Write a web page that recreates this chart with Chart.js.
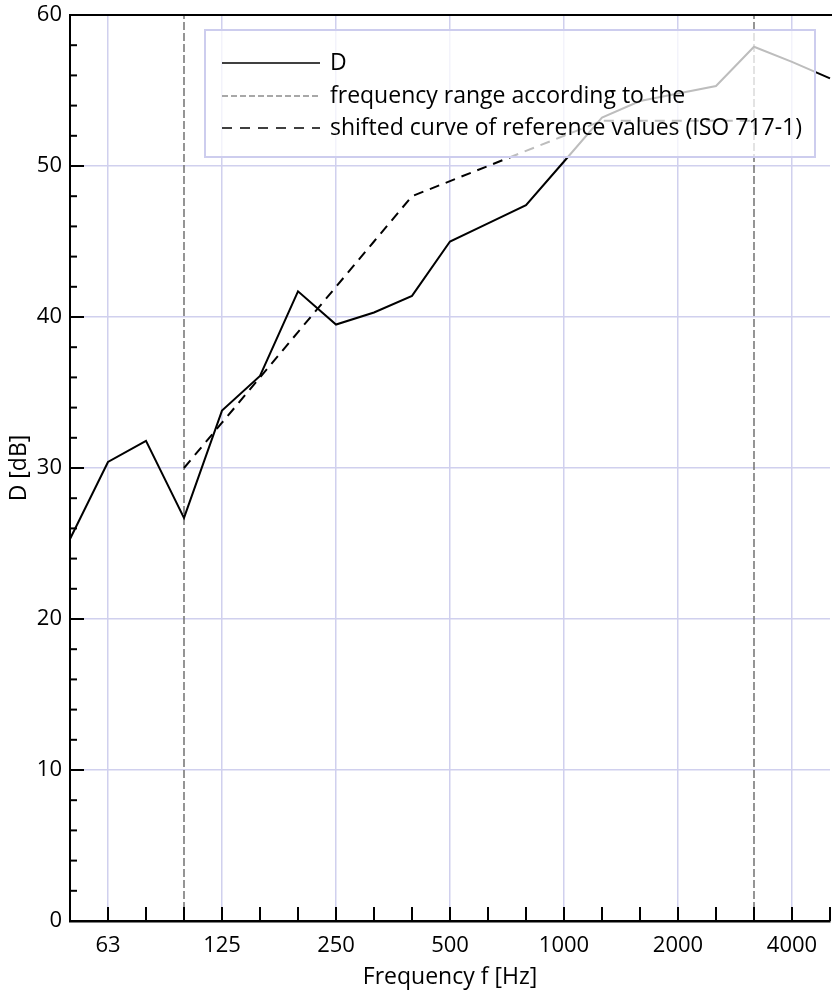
<!DOCTYPE html>
<html><head><meta charset="utf-8">
<script src="https://cdn.jsdelivr.net/npm/chart.js@4/dist/chart.umd.min.js"></script>
<style>html,body{margin:0;padding:0;background:#fff;}#wrap{width:832px;height:993px;position:relative;}</style>
</head><body><div id="wrap"><canvas id="c" width="832" height="993"></canvas></div>
<script>
// ---- data ----
const bands = ['50','63','80','100','125','160','200','250','315','400','500','630','800','1000','1250','1600','2000','2500','3150','4000','5000'];
const majorLabels = ['63','125','250','500','1000','2000','4000'];
const dValues = [25.3,30.4,31.8,26.7,33.8,36.1,41.7,39.5,40.3,41.4,45.0,46.2,47.4,50.3,53.2,54.3,54.8,55.3,57.9,56.9,55.8];
const refValues = [null,null,null,30,33,36,39,42,45,48,49,50,51,52,53,53,53,53,53,null,null];
const rangeLow = '100';
const rangeHigh = '3150';
const yMin = 0, yMax = 60;
const yLabelStep = 10, yMinorStep = 2;
const legendLabels = ['D', 'frequency range according to the', 'shifted curve of reference values (ISO 717-1)'];
const xTitle = 'Frequency f [Hz]';
const yTitle = 'D [dB]';

// ---- styles ----
const FONT = "'Open Sans', 'Noto Sans', sans-serif";
const FS = 22;
const FS_T = 23;
const gridColor = 'rgb(208,208,238)';
const rangeColor = '#7a7a7a';

const decor = {
  id: 'decor',
  afterDatasetsDraw(chart) {
    const {ctx, chartArea: a, scales: {x, y}} = chart;
    const line = (x1, y1, x2, y2) => { ctx.beginPath(); ctx.moveTo(x1, y1); ctx.lineTo(x2, y2); ctx.stroke(); };
    ctx.save();
    ctx.strokeStyle = '#000';
    ctx.lineWidth = 2;
    ctx.setLineDash([]);
    for (let i = 0; i < bands.length; i++) {
      const px = x.getPixelForValue(i);
      line(px, a.bottom, px, a.bottom - 14);
    }
    for (let v = yMin; v <= yMax; v += yMinorStep) {
      const py = y.getPixelForValue(v);
      line(a.left, py, a.left + (v % yLabelStep === 0 ? 14 : 7), py);
    }
    line(a.left, a.top, chart.width, a.top);
    // legend box
    const bx = 205, by = 30, bw = 610, bh = 127;
    ctx.fillStyle = 'rgba(255,255,255,0.74)';
    ctx.fillRect(bx, by, bw, bh);
    ctx.strokeStyle = 'rgb(205,205,238)';
    ctx.lineWidth = 2;
    ctx.strokeRect(bx, by, bw, bh);
    const rows = [63, 96, 128];
    const styles = [
      {c: '#000', w: 1.5, d: []},
      {c: '#8c8c8c', w: 1.3, d: [6, 3]},
      {c: '#000', w: 1.6, d: [10, 8]}
    ];
    ctx.font = FS_T + 'px ' + FONT;
    ctx.textBaseline = 'middle';
    ctx.textAlign = 'left';
    rows.forEach((ry, i) => {
      ctx.strokeStyle = styles[i].c;
      ctx.lineWidth = styles[i].w;
      ctx.setLineDash(styles[i].d);
      line(222, ry, 320, ry);
      ctx.setLineDash([]);
      ctx.fillStyle = '#000';
      ctx.fillText(legendLabels[i], 330, ry);
    });
    ctx.restore();
  }
};

new Chart(document.getElementById('c'), {
  type: 'line',
  data: {
    labels: bands,
    datasets: [
      {label: legendLabels[0], data: dValues, borderColor: '#000', borderWidth: 2, pointRadius: 0, tension: 0},
      {label: legendLabels[2], data: refValues, borderColor: '#000', borderWidth: 2, borderDash: [10, 7], pointRadius: 0, spanGaps: false},
      {label: legendLabels[1], data: [{x: rangeLow, y: yMin}, {x: rangeLow, y: yMax}], borderColor: rangeColor, borderWidth: 1.6, borderDash: [8, 3], pointRadius: 0},
      {label: legendLabels[1] + ' ', data: [{x: rangeHigh, y: yMin}, {x: rangeHigh, y: yMax}], borderColor: rangeColor, borderWidth: 1.6, borderDash: [8, 3], pointRadius: 0}
    ]
  },
  options: {
    responsive: false,
    devicePixelRatio: 1,
    animation: false,
    layout: {autoPadding: false, padding: {top: 15, right: 2, left: 0, bottom: 0}},
    plugins: {legend: {display: false}, tooltip: {enabled: false}},
    scales: {
      x: {
        type: 'category',
        offset: false,
        grid: {
          color: c => majorLabels.includes(bands[c.index]) ? gridColor : 'rgba(0,0,0,0)',
          lineWidth: 1.5,
          drawTicks: false
        },
        border: {display: true, color: '#000', width: 2.5},
        ticks: {
          autoSkip: false, maxRotation: 0, color: '#000', padding: 12,
          font: {family: FONT, size: FS},
          callback: (v, i) => majorLabels.includes(bands[i]) ? bands[i] : ''
        },
        title: {display: true, text: xTitle, color: '#000', font: {family: FONT, size: FS_T}, padding: {top: 0, bottom: 2}},
        afterFit: s => { s.height = 72; s.paddingLeft = 0; s.paddingRight = 0; }
      },
      y: {
        min: yMin, max: yMax,
        grid: {
          color: c => (c.tick && c.tick.value % yLabelStep === 0 && c.tick.value !== yMin && c.tick.value !== yMax) ? gridColor : 'rgba(0,0,0,0)',
          lineWidth: 1.5,
          drawTicks: false
        },
        border: {display: true, color: '#000', width: 2},
        ticks: {
          stepSize: yMinorStep, autoSkip: false, color: '#000', padding: 8,
          font: {family: FONT, size: FS},
          callback: v => v % yLabelStep === 0 ? String(v) : ''
        },
        title: {display: true, text: yTitle, color: '#000', font: {family: FONT, size: FS_T}, padding: {top: 6, bottom: 0}},
        afterFit: s => { s.width = 70; s.paddingTop = 0; s.paddingBottom = 0; }
      }
    }
  },
  plugins: [decor]
});
</script></body></html>
